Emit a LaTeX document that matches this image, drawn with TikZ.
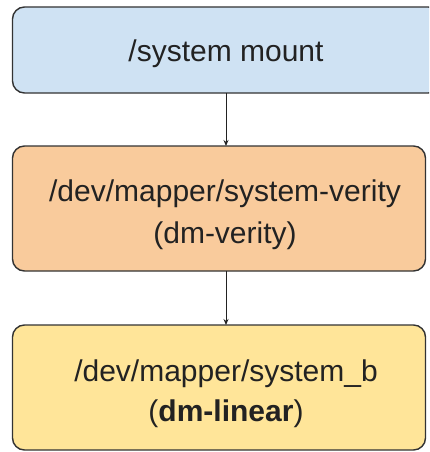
\documentclass[tikz,border=0pt]{standalone}
\usepackage{fontspec}
\setmainfont{Liberation Sans}
\usetikzlibrary{arrows.meta}
\definecolor{mountblue}{HTML}{CFE2F3}
\definecolor{verityorange}{HTML}{F9CB9C}
\definecolor{linearyellow}{HTML}{FFE599}
\definecolor{edgegray}{HTML}{333333}
\definecolor{inkgray}{HTML}{222222}
\begin{document}
\begin{tikzpicture}[x=1pt,y=-1pt,
  stagebox/.style={draw=edgegray, line width=1.4pt, rounded corners=12pt,
    inner sep=0pt, outer sep=0pt},
  stagetext/.style={font=\fontsize{30}{42}\selectfont, align=center,
    text=inkgray, inner sep=0pt},
  flow/.style={draw=inkgray, line width=0.9pt,
    -{Stealth[length=6pt,width=5pt]}}]
\useasboundingbox (0,0) rectangle (429,452);
\clip (0,0) rectangle (429,452);

% mount point box (runs past the right edge)
\node[stagebox, fill=mountblue, minimum width=428pt, minimum height=86pt]
  (mount) at (226.5,50) {};
\node[stagetext] (mounttext) at (226,54) {/system mount};

% verity device box
\node[stagebox, fill=verityorange, minimum width=413pt, minimum height=125pt]
  (verity) at (219,208.5) {};
\node[stagetext] (veritytext) at (225,214.5) {/dev/mapper/system-verity\\(dm-verity)};

% linear device box
\node[stagebox, fill=linearyellow, minimum width=413pt, minimum height=125pt]
  (linear) at (219,387.5) {};
\node[stagetext, font=\fontsize{30}{40}\selectfont] (lineartext) at (226,394)
  {/dev/mapper/system\_b\\(\textbf{dm-linear})};

% connectors
\draw[flow] (mounttext |- mount.south) -- (mounttext |- verity.north);
\draw[flow] (mounttext |- verity.south) -- (mounttext |- linear.north);
\end{tikzpicture}
\end{document}
